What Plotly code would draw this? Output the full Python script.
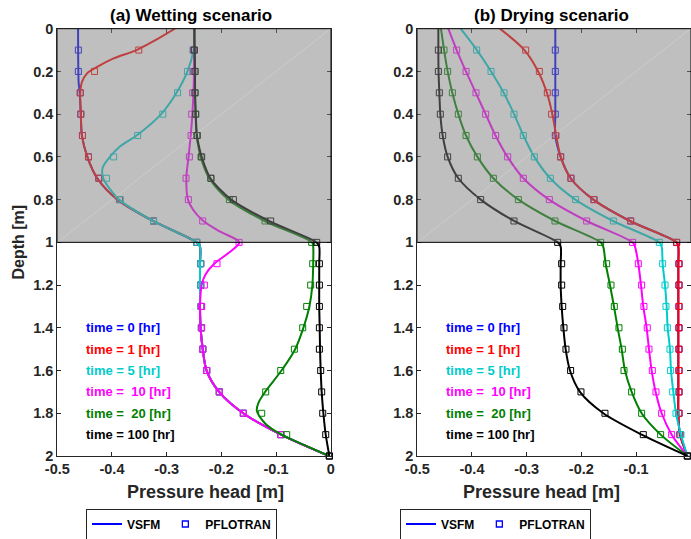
import plotly.graph_objects as go

# ---------------- data ----------------
TIME_LABELS = ["time = 0 [hr]", "time = 1 [hr]", "time = 5 [hr]",
               "time = \u00a010 [hr]", "time = \u00a020 [hr]", "time = 100 [hr]"]
COLORS = ["rgb(0,0,255)", "rgb(255,0,0)", "rgb(0,204,204)",
          "rgb(255,0,255)", "rgb(0,128,0)", "rgb(0,0,0)"]

X_TICKS = [-0.5, -0.4, -0.3, -0.2, -0.1, 0.0]
X_TICK_TEXT = ["-0.5", "-0.4", "-0.3", "-0.2", "-0.1", "0"]
Y_TICKS = [0, 0.2, 0.4, 0.6, 0.8, 1.0, 1.2, 1.4, 1.6, 1.8, 2.0]
Y_TICK_TEXT = ["0", "0.2", "0.4", "0.6", "0.8", "1", "1.2", "1.4", "1.6", "1.8", "2"]

# PFLOTRAN sample depths
PF_DEPTH = [0.1, 0.2, 0.3, 0.4, 0.5, 0.6, 0.7, 0.8, 0.9, 1.0,
            1.1, 1.2, 1.3, 1.4, 1.5, 1.6, 1.7, 1.8, 1.9, 2.0]

# ---- (a) Wetting: VSFM lines ----
wet_t0_d = [0, 0.25, 0.3, 0.4, 0.5, 0.6, 0.7, 0.8, 0.9, 1.0, 1.02,
            1.1, 1.2, 1.3, 1.4, 1.5, 1.6, 1.7, 1.8, 1.9, 2.0]
wet_t0_p = [-0.462, -0.461, -0.459, -0.457, -0.455, -0.445, -0.427, -0.390, -0.325, -0.245, -0.239,
            -0.239, -0.239, -0.239, -0.238, -0.234, -0.227, -0.204, -0.160, -0.091, -0.003]
wet_t1_d = [0, 0.05, 0.1, 0.14, 0.18, 0.21, 0.25, 0.3, 0.4, 0.5, 0.6, 0.7, 0.8, 0.9, 1.0, 1.02,
            1.1, 1.2, 1.3, 1.4, 1.5, 1.6, 1.7, 1.8, 1.9, 2.0]
wet_t1_p = [-0.285, -0.318, -0.355, -0.398, -0.428, -0.446, -0.455, -0.458, -0.457, -0.455, -0.445,
            -0.427, -0.390, -0.325, -0.245, -0.239,
            -0.239, -0.239, -0.239, -0.238, -0.234, -0.227, -0.204, -0.160, -0.091, -0.003]
wet_t5_d = [0, 0.1, 0.2, 0.3, 0.4, 0.5, 0.55, 0.6, 0.65, 0.7, 0.75, 0.8, 0.9, 1.0, 1.02,
            1.1, 1.2, 1.3, 1.4, 1.5, 1.6, 1.7, 1.8, 1.9, 2.0]
wet_t5_p = [-0.249, -0.251, -0.262, -0.282, -0.310, -0.355, -0.385, -0.404, -0.417, -0.416, -0.404,
            -0.387, -0.325, -0.245, -0.239,
            -0.239, -0.239, -0.239, -0.238, -0.234, -0.227, -0.204, -0.160, -0.091, -0.003]
wet_t10_d = [0, 0.2, 0.3, 0.4, 0.5, 0.6, 0.7, 0.8, 0.85, 0.9, 0.95, 1.0, 1.05, 1.1, 1.15, 1.2,
             1.3, 1.4, 1.5, 1.6, 1.7, 1.8, 1.9, 2.0]
wet_t10_p = [-0.250, -0.250, -0.251, -0.253, -0.256, -0.260, -0.264, -0.261, -0.251, -0.233, -0.202,
             -0.167, -0.187, -0.213, -0.229, -0.236,
             -0.239, -0.238, -0.234, -0.227, -0.204, -0.160, -0.091, -0.003]
wet_t20_d = [0, 0.1, 0.2, 0.3, 0.4, 0.5, 0.55, 0.6, 0.7, 0.8, 0.9, 1.0, 1.02,
             1.1, 1.2, 1.3, 1.4, 1.5, 1.6, 1.7, 1.75, 1.79, 1.85, 1.9, 1.95, 2.0]
wet_t20_p = [-0.249, -0.249, -0.248, -0.248, -0.247, -0.2455, -0.242, -0.238, -0.222, -0.187, -0.121,
             -0.034, -0.032,
             -0.032, -0.0335, -0.039, -0.050, -0.065, -0.090, -0.120, -0.132, -0.135, -0.119, -0.090,
             -0.047, -0.003]
wet_t100_d = [0, 0.1, 0.2, 0.3, 0.4, 0.5, 0.55, 0.6, 0.7, 0.8, 0.9, 1.0, 1.02,
              1.1, 1.2, 1.3, 1.4, 1.5, 1.6, 1.7, 1.8, 1.9, 2.0]
wet_t100_p = [-0.2494, -0.2488, -0.2481, -0.2481, -0.2469, -0.2445, -0.241, -0.236, -0.220, -0.182,
              -0.113, -0.026, -0.021,
              -0.021, -0.021, -0.021, -0.0201, -0.0195, -0.0183, -0.0165, -0.0134, -0.0091, -0.0024]

# ---- (a) Wetting: PFLOTRAN markers (at PF_DEPTH) ----
wet_t0_pf = [-0.4615, -0.4615, -0.458, -0.457, -0.454, -0.443, -0.424, -0.386, -0.324, -0.245,
             -0.2377, -0.2377, -0.2371, -0.2365, -0.234, -0.2268, -0.2037, -0.1597, -0.0914, -0.0024]
wet_t1_pf = [-0.351, -0.432, -0.458, -0.457, -0.454, -0.443, -0.424, -0.386, -0.324, -0.245,
             -0.2377, -0.2377, -0.2371, -0.2365, -0.234, -0.2268, -0.2037, -0.1597, -0.0914, -0.0024]
wet_t5_pf = [-0.252, -0.262, -0.280, -0.307, -0.353, -0.397, -0.410, -0.385, -0.324, -0.245,
             -0.2377, -0.2377, -0.2371, -0.2365, -0.234, -0.2268, -0.2037, -0.1597, -0.0914, -0.0024]
wet_t10_pf = [-0.251, -0.252, -0.2524, -0.2542, -0.2554, -0.2585, -0.2646, -0.2603, -0.2341, -0.1676,
              -0.208, -0.231, -0.236, -0.236, -0.234, -0.2268, -0.2037, -0.1597, -0.0914, -0.0024]
wet_t20_pf = [-0.2494, -0.2481, -0.2481, -0.2469, -0.2451, -0.2372, -0.2195, -0.1853, -0.1201, -0.0347,
              -0.0329, -0.0366, -0.0439, -0.0512, -0.0664, -0.0914, -0.1189, -0.1262, -0.0805, -0.0024]
wet_t100_pf = [-0.2494, -0.2481, -0.2481, -0.2469, -0.2439, -0.2360, -0.2189, -0.1780, -0.1098, -0.0256,
               -0.0207, -0.0207, -0.0207, -0.0207, -0.0207, -0.0183, -0.0165, -0.0146, -0.0091, -0.0024]

# ---- (b) Drying: VSFM lines (common depth grid) ----
DRY_LINE_DEPTH = [0, 0.1, 0.2, 0.3, 0.4, 0.5, 0.6, 0.7, 0.8, 0.9, 1.0, 1.02,
                  1.1, 1.2, 1.3, 1.4, 1.5, 1.6, 1.7, 1.8, 1.9, 2.0]
dry_t0_p = [-0.2476, -0.2476, -0.2476, -0.2476, -0.2476, -0.2476, -0.2378, -0.2195, -0.178, -0.111,
            -0.0257, -0.0226,
            -0.0226, -0.0226, -0.0226, -0.0226, -0.0226, -0.0226, -0.0226, -0.0226, -0.0196, -0.006]
dry_t1_p = [-0.3488, -0.304, -0.279, -0.263, -0.253, -0.246, -0.2378, -0.2195, -0.178, -0.111,
            -0.0257, -0.0226,
            -0.0226, -0.0226, -0.0226, -0.0226, -0.0226, -0.0226, -0.0226, -0.0226, -0.0196, -0.006]
dry_t5_p = [-0.4207, -0.391, -0.365, -0.342, -0.323, -0.306, -0.286, -0.257, -0.211, -0.142,
            -0.0574, -0.0531,
            -0.0513, -0.0470, -0.0440, -0.0421, -0.0379, -0.0360, -0.0318, -0.0269, -0.0178, -0.006]
dry_t10_p = [-0.4433, -0.428, -0.411, -0.393, -0.375, -0.357, -0.335, -0.306, -0.259, -0.190,
             -0.1062, -0.1019,
             -0.0958, -0.0909, -0.0867, -0.0806, -0.0763, -0.0714, -0.0641, -0.0531, -0.0348, -0.006]
dry_t20_p = [-0.4567, -0.451, -0.4445, -0.436, -0.425, -0.411, -0.390, -0.361, -0.315, -0.248,
             -0.1647, -0.160,
             -0.1555, -0.1476, -0.1403, -0.1336, -0.1263, -0.1202, -0.1080, -0.0897, -0.0550, -0.006]
dry_t100_p = [-0.4615, -0.4615, -0.4612, -0.4597, -0.4579, -0.4536, -0.4445, -0.425, -0.384, -0.323,
              -0.2433, -0.2378,
              -0.2378, -0.2378, -0.2360, -0.2329, -0.2287, -0.2208, -0.2025, -0.1598, -0.0897, -0.006]

# ---- (b) Drying: PFLOTRAN markers (at PF_DEPTH) ----
dry_t0_pf = [-0.2476, -0.2476, -0.2476, -0.2476, -0.2476, -0.2378, -0.2190, -0.1769, -0.1098, -0.0257,
             -0.0214, -0.0214, -0.0214, -0.0214, -0.0214, -0.0214, -0.0214, -0.0214, -0.0196, -0.006]
dry_t1_pf = [-0.3018, -0.2768, -0.2622, -0.2543, -0.2463, -0.2378, -0.2190, -0.1769, -0.1098, -0.0257,
             -0.0214, -0.0214, -0.0214, -0.0214, -0.0214, -0.0214, -0.0214, -0.0214, -0.0196, -0.006]
dry_t5_pf = [-0.3914, -0.3652, -0.3414, -0.3232, -0.3061, -0.2860, -0.2567, -0.2105, -0.1415, -0.0574,
             -0.0513, -0.0470, -0.0452, -0.0427, -0.0379, -0.0367, -0.0330, -0.0269, -0.0178, -0.006]
dry_t10_pf = [-0.4280, -0.4109, -0.3927, -0.3750, -0.3567, -0.3347, -0.3061, -0.2585, -0.1903, -0.1062,
              -0.0958, -0.0897, -0.0855, -0.0794, -0.0763, -0.0702, -0.0635, -0.0531, -0.0348, -0.006]
dry_t20_pf = [-0.4512, -0.4445, -0.4359, -0.4250, -0.4109, -0.3902, -0.3609, -0.3152, -0.2482, -0.1647,
              -0.1537, -0.1458, -0.1397, -0.1312, -0.1250, -0.1220, -0.1080, -0.0897, -0.0550, -0.006]
dry_t100_pf = [-0.4615, -0.4615, -0.4597, -0.4579, -0.4536, -0.4445, -0.4250, -0.3841, -0.3232, -0.2433,
               -0.2360, -0.2360, -0.2341, -0.2317, -0.2281, -0.2196, -0.2007, -0.1568, -0.0867, -0.006]

# ---------------- figure ----------------
W, H = 691, 539
FONT = "Liberation Sans, Arial, sans-serif"
AX_COLOR = "#262626"

wet_lines = [(wet_t0_d, wet_t0_p), (wet_t1_d, wet_t1_p), (wet_t5_d, wet_t5_p),
             (wet_t10_d, wet_t10_p), (wet_t20_d, wet_t20_p), (wet_t100_d, wet_t100_p)]
wet_pf = [wet_t0_pf, wet_t1_pf, wet_t5_pf, wet_t10_pf, wet_t20_pf, wet_t100_pf]
dry_lines = [(DRY_LINE_DEPTH, p) for p in [dry_t0_p, dry_t1_p, dry_t5_p, dry_t10_p, dry_t20_p, dry_t100_p]]
dry_pf = [dry_t0_pf, dry_t1_pf, dry_t5_pf, dry_t10_pf, dry_t20_pf, dry_t100_pf]

fig = go.Figure()

for lines, pfs, xa, ya in [(wet_lines, wet_pf, "x", "y"), (dry_lines, dry_pf, "x2", "y2")]:
    for i in range(6):
        d, p = lines[i]
        fig.add_trace(go.Scatter(x=p, y=d, mode="lines", xaxis=xa, yaxis=ya,
                                 line=dict(color=COLORS[i], width=2, shape="spline", smoothing=0.8),
                                 showlegend=False, hoverinfo="skip"))
        fig.add_trace(go.Scatter(x=pfs[i], y=PF_DEPTH, mode="markers", xaxis=xa, yaxis=ya,
                                 marker=dict(symbol="square-open", size=6, color=COLORS[i],
                                             line=dict(width=1, color=COLORS[i])),
                                 cliponaxis=False, showlegend=False, hoverinfo="skip"))

# legend entries
for lg in ["legend", "legend2"]:
    fig.add_trace(go.Scatter(x=[None], y=[None], mode="lines", name="VSFM", legend=lg,
                             line=dict(color="rgb(0,0,255)", width=2)))
    fig.add_trace(go.Scatter(x=[None], y=[None], mode="markers", name="PFLOTRAN", legend=lg,
                             marker=dict(symbol="square-open", size=6, color="rgb(0,0,255)",
                                         line=dict(width=1.3, color="rgb(0,0,255)"))))

px_l = [57.3, 417.3]
px_r = [330.7, 690.7]
y_top, y_bot = 28.7, 456.0

axis_common = dict(
    showgrid=False, zeroline=False, showline=True, linecolor=AX_COLOR, linewidth=1,
    mirror="ticks", ticks="inside", ticklen=4, tickcolor=AX_COLOR, tickwidth=1,
    tickfont=dict(family=FONT, size=14.5, color=AX_COLOR, weight="bold"),
    automargin=False,
)

layout = dict(
    width=W, height=H, margin=dict(l=0, r=0, t=0, b=0, autoexpand=False),
    paper_bgcolor="white", plot_bgcolor="white",
    showlegend=True,
)
for k, suf in enumerate(["", "2"]):
    layout["xaxis" + suf] = dict(axis_common, domain=[px_l[k] / W, px_r[k] / W],
                                 range=[-0.5, 0], tickvals=X_TICKS, ticktext=X_TICK_TEXT,
                                 anchor="y" + suf)
    layout["yaxis" + suf] = dict(axis_common, domain=[1 - y_bot / H, 1 - y_top / H],
                                 range=[2, 0], tickvals=Y_TICKS, ticktext=Y_TICK_TEXT,
                                 anchor="x" + suf)

leg_common = dict(orientation="h", xanchor="left", yanchor="middle", bgcolor="white",
                  bordercolor=AX_COLOR, borderwidth=1,
                  font=dict(family=FONT, size=12, color="black", weight="bold"),
                  itemwidth=30)
layout["legend"] = dict(leg_common, x=86 / W, y=1 - 524 / H)
layout["legend2"] = dict(leg_common, x=400 / W, y=1 - 524 / H)

shapes = []
for suf in ["", "2"]:
    shapes.append(dict(type="rect", xref="x" + suf, yref="y" + suf, x0=-0.5, x1=0, y0=0, y1=1,
                       fillcolor="rgba(128,128,128,0.5)", line=dict(color="black", width=1),
                       layer="above"))
    shapes.append(dict(type="line", xref="x" + suf, yref="y" + suf, x0=-0.5, x1=0, y0=1, y1=0,
                       line=dict(color="rgba(255,255,255,0.35)", width=0.6), layer="above"))
layout["shapes"] = shapes

ann = []
titles = ["(a) Wetting scenario", "(b) Drying scenario"]
xlabel_cx = [205, 541]
for k in range(2):
    cx = (px_l[k] + px_r[k]) / 2 - 3
    ann.append(dict(text=titles[k], xref="paper", yref="paper", x=cx / W, y=1 - 16 / H,
                    xanchor="center", yanchor="middle", showarrow=False,
                    font=dict(family=FONT, size=17, color="black", weight="bold")))
    ann.append(dict(text="Pressure head [m]", xref="paper", yref="paper", x=xlabel_cx[k] / W,
                    y=1 - 492 / H, xanchor="center", yanchor="middle", showarrow=False,
                    font=dict(family=FONT, size=18, color=AX_COLOR, weight="bold")))
    xr = "x" if k == 0 else "x2"
    yr = "y" if k == 0 else "y2"
    for i in range(6):
        ann.append(dict(text=TIME_LABELS[i], xref=xr, yref=yr, x=-0.452, y=1.4 + 0.1 * i,
                        xanchor="left", yanchor="middle", showarrow=False,
                        font=dict(family=FONT, size=13, color=COLORS[i], weight="bold")))
ann.append(dict(text="Depth [m]", xref="paper", yref="paper", x=17.5 / W, y=1 - 242 / H,
                xanchor="center", yanchor="middle", textangle=-90, showarrow=False,
                font=dict(family=FONT, size=16, color=AX_COLOR, weight="bold")))
layout["annotations"] = ann

fig.update_layout(**layout)
fig.write_html("out.html", config={"displayModeBar": False},
               post_script="document.body.style.margin='0px';document.body.style.overflow='hidden';")
